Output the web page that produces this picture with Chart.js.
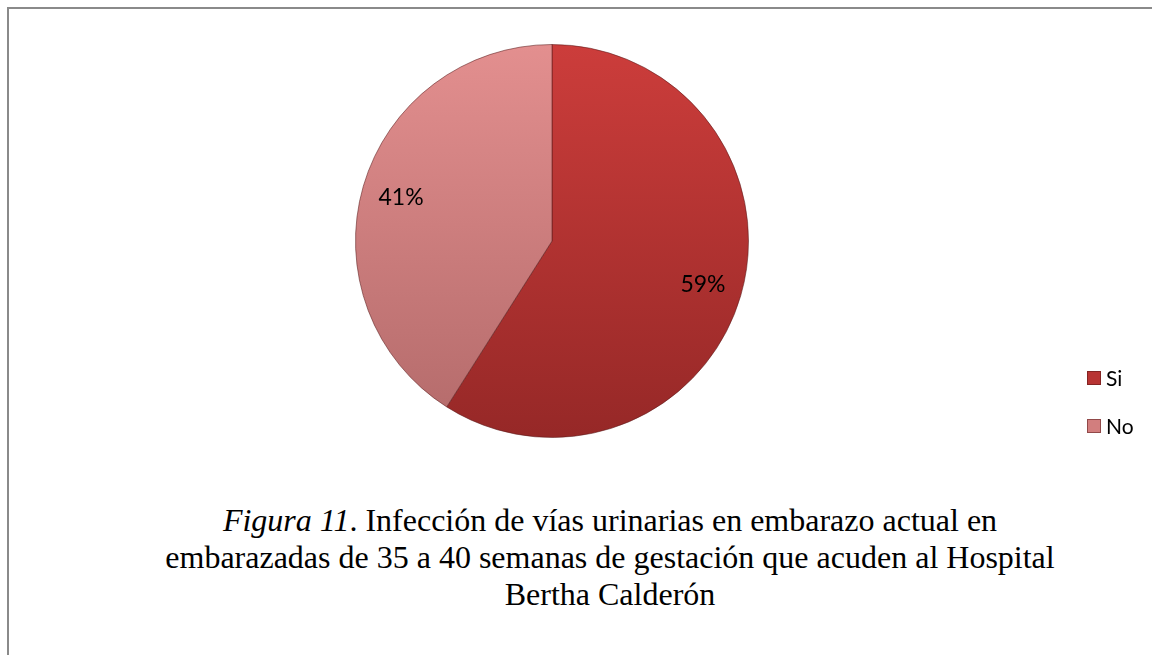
<!DOCTYPE html>
<html>
<head>
<meta charset="utf-8">
<script src="https://cdn.jsdelivr.net/npm/chart.js@4/dist/chart.umd.min.js"></script>
<style>
    html, body { margin: 0; padding: 0; background: #fff; }
    body { width: 1152px; height: 655px; position: relative; overflow: hidden; }
    #marco {
        position: absolute; left: 7px; top: 7px; width: 1200px; height: 700px;
        border-left: 2px solid #8a8a8a; border-top: 2px solid #8a8a8a;
    }
    #zona { position: absolute; left: 0; top: 0; width: 1152px; height: 480px; }
    #leyenda {
        position: absolute; left: 0; top: 502px; width: 1220px; text-align: center;
        font-family: "Liberation Serif", "Times New Roman", serif; font-size: 32px;
        line-height: 37px; color: #000;
    }
</style>
</head>
<body>
<div id="marco"></div>
<div id="zona"><canvas id="myChart"></canvas></div>
<div id="leyenda"><i>Figura 11</i>. Infección de vías urinarias en embarazo actual en<br>embarazadas de 35 a 40 semanas de gestación que acuden al Hospital<br>Bertha Calderón</div>

<script>
const categorias = ['Si', 'No'];
const porcentajes = [59, 41];
const coloresArriba = ['#cc3d3b', '#e38f8f'];
const coloresAbajo = ['#962827', '#b36a6a'];
const coloresLeyenda = ['#b83433', '#d27e7e'];

function degradado(context) {
    const chart = context.chart;
    const area = chart.chartArea;
    if (!area) return coloresArriba[context.dataIndex];
    const g = chart.ctx.createLinearGradient(0, area.top, 0, area.bottom);
    g.addColorStop(0, coloresArriba[context.dataIndex]);
    g.addColorStop(1, coloresAbajo[context.dataIndex]);
    return g;
}

// etiquetas de porcentaje dentro de cada sector
const etiquetas = {
    id: 'etiquetas',
    afterDatasetsDraw(chart) {
        const ctx = chart.ctx;
        const meta = chart.getDatasetMeta(0);
        ctx.save();
        ctx.font = '23px Lato, "Open Sans", sans-serif';
        ctx.fillStyle = '#000';
        ctx.textAlign = 'center';
        ctx.textBaseline = 'middle';
        meta.data.forEach(function(arc, i) {
            const p = arc.getProps(['x', 'y', 'startAngle', 'endAngle', 'outerRadius'], true);
            const ang = (p.startAngle + p.endAngle) / 2;
            const r = p.outerRadius * 0.8;
            ctx.fillText(porcentajes[i] + '%', p.x + Math.cos(ang) * r, p.y + Math.sin(ang) * r);
        });
        ctx.restore();
    }
};

// leyenda a la derecha
const leyendaDerecha = {
    id: 'leyendaDerecha',
    afterDraw(chart) {
        const ctx = chart.ctx;
        ctx.save();
        ctx.font = '21px Lato, "Open Sans", sans-serif';
        ctx.textBaseline = 'middle';
        ctx.textAlign = 'left';
        chart.data.labels.forEach(function(lab, i) {
            const y = 378 + i * 48;
            const x = 1087;
            ctx.fillStyle = coloresLeyenda[i];
            ctx.fillRect(x, y - 7, 14, 14);
            ctx.strokeStyle = 'rgba(80,20,20,0.5)';
            ctx.lineWidth = 1;
            ctx.strokeRect(x + 0.5, y - 6.5, 13, 13);
            ctx.fillStyle = '#000';
            ctx.fillText(lab, x + 19, y + 1);
        });
        ctx.restore();
    }
};

const ctx = document.getElementById('myChart');
const myChart = new Chart(ctx, {
    type: 'pie',
    data: {
        labels: categorias,
        datasets: [{
            data: porcentajes,
            backgroundColor: degradado,
            borderColor: 'rgba(90,25,25,0.55)',
            borderWidth: 1
        }]
    },
    options: {
        responsive: true,
        maintainAspectRatio: false,
        animation: false,
        layout: {
            padding: { left: 355, right: 403, top: 44, bottom: 42 }
        },
        plugins: {
            legend: { display: false },
            tooltip: { enabled: false }
        }
    },
    plugins: [etiquetas, leyendaDerecha]
});
</script>
</body>
</html>
